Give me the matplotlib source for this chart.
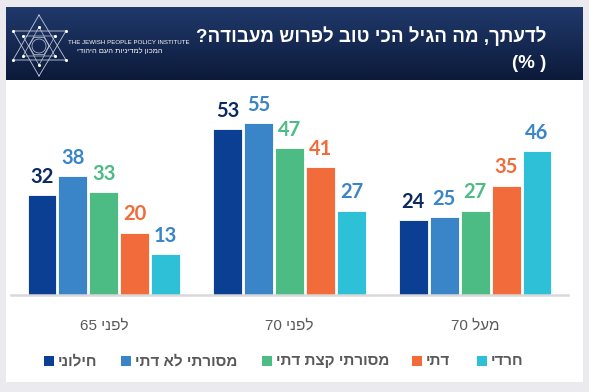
import numpy as np
import matplotlib
matplotlib.use('Agg')
import matplotlib.pyplot as plt
from matplotlib.patches import Rectangle, Circle

# ---- data (logical Hebrew strings) ----
title_line1 = 'לדעתך, מה הגיל הכי טוב לפרוש מעבודה?'
title_line2 = '(% )'
groups = ['לפני 65', 'לפני 70', 'מעל 70']
series = ['חילוני', 'מסורתי לא דתי', 'מסורתי קצת דתי', 'דתי', 'חרדי']
values = {
    'חילוני':          [32, 53, 24],
    'מסורתי לא דתי':   [38, 55, 25],
    'מסורתי קצת דתי':  [33, 47, 27],
    'דתי':             [20, 41, 35],
    'חרדי':            [13, 27, 46],
}
bar_colors = ['#0a3f94', '#3a84c8', '#4cbb84', '#f26b3a', '#2ec0d6']
label_colors = ['#0b2a63', '#3a84c8', '#4cbb84', '#f26b3a', '#3a84c8']

HEB = ['Liberation Sans', 'DejaVu Sans']


def vis(s):
    """crude RTL -> visual order (matplotlib has no bidi)"""
    words = s.split(' ')
    out = []
    for w in reversed(words):
        if w.isdigit():
            out.append(w)
        else:
            out.append(w[::-1])
    return ' '.join(out)


W, H = 589, 392
fig = plt.figure(figsize=(W / 100, H / 100), dpi=100)
fig.patch.set_facecolor('#ebeaef')


def fx(px):
    return px / W


def fy(py):
    return 1 - py / H


# white panel
fig.patches.append(Rectangle((fx(6), fy(382)), fx(583) - fx(6), fy(7) - fy(382),
                             transform=fig.transFigure, facecolor='white',
                             edgecolor='none', zorder=-5))

# header with gradient (pixel coords inside header: x-6, y-7)
hax = fig.add_axes([fx(6), fy(80), fx(583) - fx(6), fy(7) - fy(80)])
top = np.array([0x20, 0x39, 0x6b]) / 255
bot = np.array([0x0c, 0x1a, 0x3a]) / 255
t = np.linspace(0, 1, 64)[:, None]
grad = top[None, :] * (1 - t) + bot[None, :] * t
hax.imshow(grad[:, None, :].repeat(2, axis=1), aspect='auto',
           extent=[0, 577, 73, 0])
hax.set_xlim(0, 577)
hax.set_ylim(73, 0)
hax.axis('off')

# logo: stretched hexagram with inner pattern
lc = '#c3cadb'
cx, cy = 33, 39
hax.plot([cx, 7, 60, cx], [8, 53, 53, 8], color=lc, lw=0.6)
hax.plot([cx, 7, 60, cx], [69, 24, 24, 69], color=lc, lw=0.6)
hax.plot([cx, cx - 16, cx + 16, cx], [39 - 19, 39 + 10, 39 + 10, 39 - 19], color=lc, lw=0.5)
hax.plot([cx, cx - 16, cx + 16, cx], [39 + 19, 39 - 10, 39 - 10, 39 + 19], color=lc, lw=0.5)
ang = np.deg2rad(np.arange(0, 361, 60))
hax.plot(cx + 10 * np.cos(ang), cy - 10 * np.sin(ang), color=lc, lw=0.5)
hax.add_patch(Circle((cx, cy), 7, fill=False, edgecolor=lc, lw=0.5))
pts_x = [cx - 16, cx + 16, cx - 16, cx + 16, cx, cx, 7, 60, 7, 60]
pts_y = [29, 29, 49, 49, 20, 58, 24, 24, 53, 53]
hax.scatter(pts_x, pts_y, s=1.5, color='white', zorder=3)
hax.text(62, 35, 'THE JEWISH PEOPLE POLICY INSTITUTE', color='white',
         fontsize=4.4, fontfamily=HEB, va='center', ha='left')
hax.text(157, 44, vis('המכון למדיניות העם היהודי'), color='white',
         fontsize=5.4, fontfamily=HEB, va='center', ha='right')

# title
fig.text(fx(546), fy(36), vis(title_line1), color='white', fontsize=13.5,
         fontweight='bold', fontfamily=HEB, ha='right', va='center')
fig.text(fx(546), fy(63), title_line2, color='white', fontsize=13.5,
         fontweight='bold', fontfamily=HEB, ha='right', va='center')

# chart
ax = fig.add_axes([fx(11), fy(295), fx(568) - fx(11), fy(95) - fy(295)])
x = np.arange(len(groups))
step = 1 / 6
bw = 0.155
for i, s in enumerate(series):
    xs = x + (i - 2) * step
    vals = values[s]
    ax.bar(xs, vals, width=bw, color=bar_colors[i], edgecolor='white',
           linewidth=0.6, zorder=2)
    for xi, v in zip(xs, vals):
        ax.annotate(str(v), (xi, v), xytext=(0, 6), textcoords='offset points',
                    ha='center', va='bottom', fontsize=14.5, fontweight='bold',
                    fontfamily='Lato', color=label_colors[i])

ax.set_xlim(-0.5, 2.5)
ax.set_ylim(0, 64)
for sp in ['top', 'right', 'left']:
    ax.spines[sp].set_visible(False)
ax.spines['bottom'].set_color('#d9d9d9')
ax.spines['bottom'].set_linewidth(1.8)
ax.set_yticks([])
ax.set_xticks(x)
ax.set_xticklabels([vis(g) for g in groups], fontfamily=HEB, fontsize=11,
                   color='#595959')
ax.tick_params(axis='x', length=0, pad=17)
ax.patch.set_alpha(0)

# legend (manual, left to right as in the picture)
leg_x = [44, 121, 262, 412, 477]
for i, s in enumerate(series):
    fig.patches.append(Rectangle((fx(leg_x[i]), fy(366)), fx(10), 10 / H,
                                 transform=fig.transFigure,
                                 facecolor=bar_colors[i], edgecolor='none'))
    fig.text(fx(leg_x[i] + 14), fy(361), vis(s), fontfamily=HEB, fontsize=11,
             fontweight='bold', color='#595959', ha='left', va='center')

fig.savefig('out.png', dpi=100, facecolor=fig.get_facecolor())
